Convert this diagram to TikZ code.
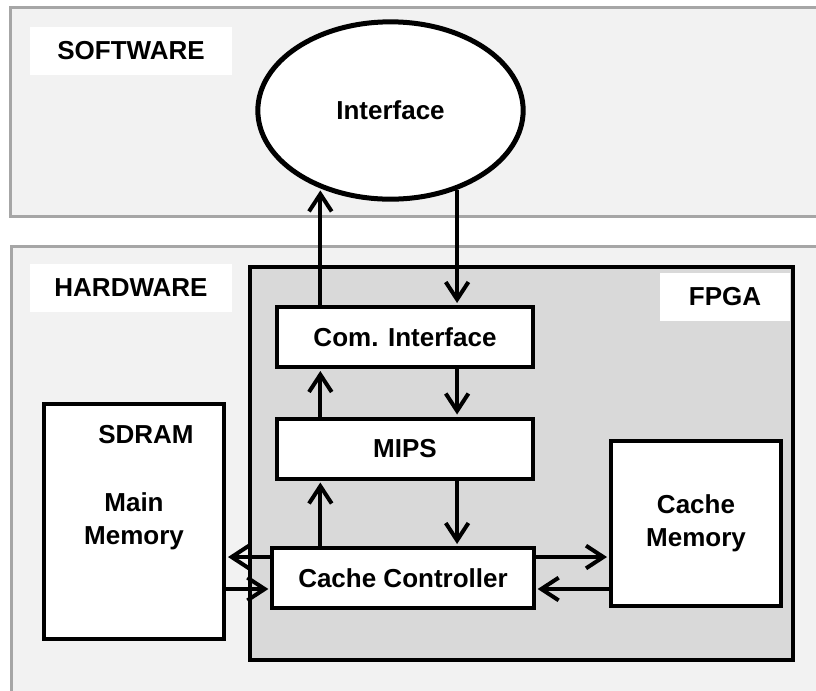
\documentclass[tikz,border=0pt]{standalone}
\usepackage{fontspec}
\setmainfont{Liberation Sans}
\usetikzlibrary{arrows.meta,shapes.geometric}

\definecolor{layerfill}{HTML}{F2F2F2}
\definecolor{layeredge}{HTML}{A6A6A6}
\definecolor{boardfill}{HTML}{D9D9D9}

\begin{document}
\begin{tikzpicture}[x=0.75pt,y=-0.75pt,
  font=\fontsize{19.5}{24.5}\selectfont\bfseries,
  panel/.style={draw=layeredge,line width=2.25pt,fill=layerfill},
  tag/.style={fill=white,minimum width=151.5pt,minimum height=36pt,inner sep=0pt},
  blk/.style={draw,line width=3pt,fill=white,inner sep=0pt,align=center},
  arr/.style={line width=3pt,shorten >=1.5pt,-{Straight Barb[length=13pt,width=17pt]}}]
  \useasboundingbox (0,0) rectangle (816,690);
  \clip (0,0) rectangle (816,690);

  % Layers
  \draw[panel] (10,7) rectangle (840,216);
  \draw[panel] (11,246) rectangle (840,720);
  \node[tag] (swtag) at (131,51) {SOFTWARE};
  \node[tag] (hwtag) at (131,288) {HARDWARE};

  % Host side
  \node[blk,ellipse,line width=3.75pt,minimum width=199pt,minimum height=133pt] (iface) at (390.5,110.5) {Interface};

  % FPGA board
  \node[draw,line width=3pt,fill=boardfill,minimum width=407pt,minimum height=295pt] (fpga) at (521.5,463.5) {};
  \node[tag,minimum width=97pt] (fpgatag) at (725,297) {FPGA};
  \node[blk,minimum width=192pt,minimum height=45pt] (ci) at (405,337) {Com. Interface};
  \node[blk,minimum width=192pt,minimum height=45pt] (mips) at (405,448.5) {MIPS};
  \node[blk,minimum width=196pt,minimum height=45pt] (cc) at (403,578) {Cache Controller};
  \node[blk,minimum width=127.5pt,minimum height=124pt] (cmem) at (696,523.5) {Cache\\Memory};

  % Off-chip memory
  \node[blk,minimum width=135pt,minimum height=176pt] (sdram) at (134,521.5) {Main\\Memory};
  \node (sdramtag) at ([xshift=9pt,yshift=-24pt]sdram.north) {SDRAM};

  % Data paths
  \coordinate (up) at (iface.228);
  \coordinate (dn) at (iface.310);
  \coordinate (hi) at (0,557);
  \coordinate (lo) at (0,589);
  \draw[arr] (up |- ci.north) -- (up);
  \draw[arr] (dn) -- (dn |- ci.north);
  \draw[arr] (up |- mips.north) -- (up |- ci.south);
  \draw[arr] (dn |- ci.south) -- (dn |- mips.north);
  \draw[arr] (up |- cc.north) -- (up |- mips.south);
  \draw[arr] (dn |- mips.south) -- (dn |- cc.north);
  \draw[arr] (cc.west |- hi) -- (sdram.east |- hi);
  \draw[arr] (sdram.east |- lo) -- (cc.west |- lo);
  \draw[arr] (cc.east |- hi) -- (cmem.west |- hi);
  \draw[arr] (cmem.west |- lo) -- (cc.east |- lo);

\end{tikzpicture}
\end{document}
